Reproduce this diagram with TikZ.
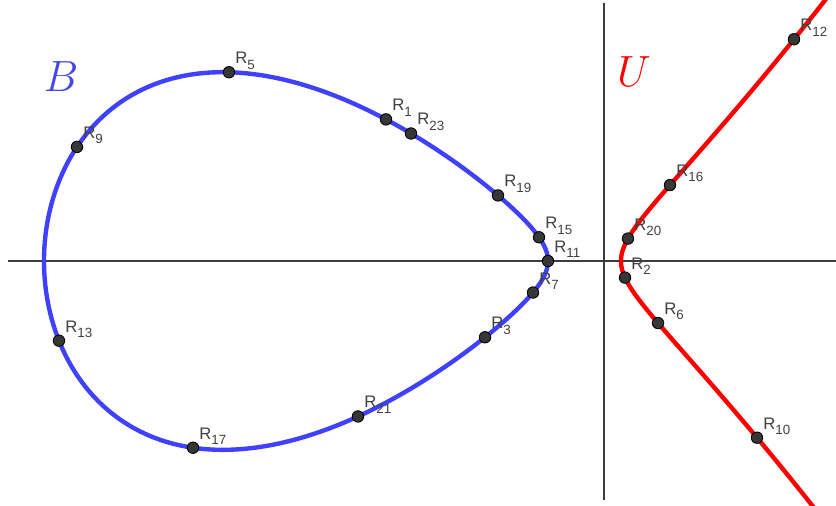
\documentclass[tikz,border=0pt]{standalone}
\usepackage{fontspec}
\newfontfamily\labelfont{Liberation Sans}
\usetikzlibrary{positioning}
\definecolor{CurveBlue}{RGB}{64,64,255}
\definecolor{CurveRed}{RGB}{255,0,0}
\definecolor{AxisGray}{RGB}{60,60,60}
\definecolor{LabelGray}{RGB}{64,64,64}
\definecolor{DotGray}{RGB}{55,55,55}
\definecolor{BLabel}{RGB}{70,70,230}
\newcommand{\rsub}[1]{R\raisebox{-0.32em}{\fontsize{7.6}{8}\selectfont #1}}
\tikzset{
  axisline/.style={draw=AxisGray,line width=0.8pt},
  ovalcurve/.style={draw=CurveBlue,line width=2.5pt},
  branchcurve/.style={draw=CurveRed,line width=2.5pt},
  ptdot/.style={circle,draw=black,fill=DotGray,line width=0.5pt,
    inner sep=0pt,minimum size=6.5pt},
  ptlabel/.style={font=\labelfont\fontsize{9.5}{10}\selectfont,text=LabelGray,
    anchor=base west,inner sep=0pt,xshift=0.12cm,yshift=0.17cm},
  complabel/.style={font=\fontsize{30}{31}\selectfont,inner sep=0pt},
}

\begin{document}
\begin{tikzpicture}[x=2cm,y=2cm,
  declare function={ecy(\u)=sqrt(abs(0.154*(\u+5.60)*(\u+0.56)*(\u-0.17)));}]
  \clip (-6.04,-2.44) rectangle (2.32,2.61);
  % axes
  \coordinate (xl) at (-5.96,0);
  \coordinate (xr) at (2.32,0);
  \coordinate (yb) at (0,-2.39);
  \coordinate (yt) at (0,2.58);
  \draw[axisline] (xl) -- (xr);
  \draw[axisline] (yb) -- (yt);
  % bounded component B and unbounded component U
  \draw[ovalcurve] plot[domain=0:360,samples=361,variable=\t]
    ({-3.08-2.52*cos(\t)},{2.52*sin(\t)*sqrt(0.154*(3.25+2.52*cos(\t)))}) -- cycle;
  \draw[branchcurve] plot[domain=-1.5:1.5,samples=301,variable=\s]
    ({0.17+\s*\s},{\s*sqrt(0.154*(\s*\s+5.77)*(\s*\s+0.73))});
  \node[complabel,text=BLabel] (compB) at (-5.43,1.84) {$B$};
  \node[complabel,text=CurveRed] (compU) at (0.30,1.89) {$U$};
  % points on B
  \node[ptdot] (R1) at (-2.18,{ecy(-2.18)}) {};
  \node[ptdot] (R23) at (-1.93,{ecy(-1.93)}) {};
  \node[ptdot] (R5) at (-3.75,{ecy(-3.75)}) {};
  \node[ptdot] (R9) at (-5.27,{ecy(-5.27)}) {};
  \node[ptdot] (R19) at (-1.06,{ecy(-1.06)}) {};
  \node[ptdot] (R15) at (-0.65,{ecy(-0.65)}) {};
  \node[ptdot] (R11) at (-0.56,0) {};
  \node[ptdot] (R7) at (-0.71,{-ecy(-0.71)}) {};
  \node[ptdot] (R3) at (-1.19,{-ecy(-1.19)}) {};
  \node[ptdot] (R21) at (-2.46,{-ecy(-2.46)}) {};
  \node[ptdot] (R17) at (-4.11,{-ecy(-4.11)}) {};
  \node[ptdot] (R13) at (-5.45,{-ecy(-5.45)}) {};
  % points on U
  \node[ptdot] (R12) at (1.90,{ecy(1.90)}) {};
  \node[ptdot] (R16) at (0.66,{ecy(0.66)}) {};
  \node[ptdot] (R20) at (0.24,{ecy(0.24)}) {};
  \node[ptdot] (R2) at (0.21,{-ecy(0.21)}) {};
  \node[ptdot] (R6) at (0.54,{-ecy(0.54)}) {};
  \node[ptdot] (R10) at (1.53,{-ecy(1.53)}) {};
  % point labels
  \node[ptlabel] (lR1) at (R1) {\rsub{1}};
  \node[ptlabel] (lR23) at (R23) {\rsub{23}};
  \node[ptlabel] (lR5) at (R5) {\rsub{5}};
  \node[ptlabel] (lR9) at (R9) {\rsub{9}};
  \node[ptlabel] (lR19) at (R19) {\rsub{19}};
  \node[ptlabel] (lR15) at (R15) {\rsub{15}};
  \node[ptlabel] (lR11) at (R11) {\rsub{11}};
  \node[ptlabel] (lR7) at (R7) {\rsub{7}};
  \node[ptlabel] (lR3) at (R3) {\rsub{3}};
  \node[ptlabel] (lR21) at (R21) {\rsub{21}};
  \node[ptlabel] (lR17) at (R17) {\rsub{17}};
  \node[ptlabel] (lR13) at (R13) {\rsub{13}};
  \node[ptlabel] (lR12) at (R12) {\rsub{12}};
  \node[ptlabel] (lR16) at (R16) {\rsub{16}};
  \node[ptlabel] (lR20) at (R20) {\rsub{20}};
  \node[ptlabel] (lR2) at (R2) {\rsub{2}};
  \node[ptlabel] (lR6) at (R6) {\rsub{6}};
  \node[ptlabel] (lR10) at (R10) {\rsub{10}};
\end{tikzpicture}
\end{document}
